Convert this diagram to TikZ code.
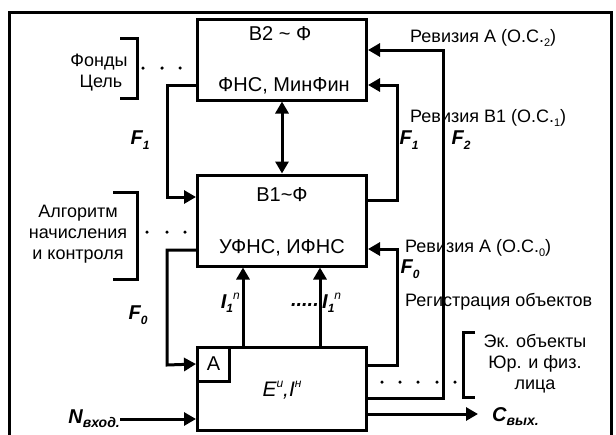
\documentclass[tikz,border=0pt]{standalone}
\usepackage{fontspec}
\setmainfont{Liberation Sans}
\usetikzlibrary{arrows.meta,calc}
\newcommand\sbs[1]{\raisebox{-0.22em}{\fontsize{12pt}{12pt}\selectfont #1}}
\newcommand\bsbs[1]{\raisebox{-0.2em}{\fontsize{14pt}{14pt}\selectfont #1}}
\newcommand\sps[1]{\raisebox{0.45em}{\fontsize{12pt}{12pt}\selectfont #1}}
\newcommand\osub[1]{\raisebox{-0.2em}{\fontsize{11pt}{11pt}\selectfont #1}}
\begin{document}
\begin{tikzpicture}[x=1pt,y=-1pt,
  thk/.style={line width=3pt},
  box/.style={draw,line width=3pt,minimum width=169pt,inner sep=0pt},
  arr/.style={line width=3pt,-{Triangle[length=12pt,width=13pt]}},
  darr/.style={line width=3pt,{Triangle[length=12pt,width=13pt]}-{Triangle[length=12pt,width=13pt]}},
  txt/.style={font=\fontsize{18pt}{20pt}\selectfont,inner sep=0pt},
  btxt/.style={font=\fontsize{20pt}{22pt}\selectfont,inner sep=0pt},
  lbl/.style={font=\fontsize{20pt}{22pt}\selectfont\bfseries\itshape,inner sep=0pt},
  dot/.style={circle,fill,inner sep=0pt,minimum size=3.5pt}]
\useasboundingbox (0,0) rectangle (616,434);
% frame
\draw[thk] (9,440) -- (9,12) -- (611,12) -- (611,440);
% boxes
\node[box,minimum height=81pt] (b2) at (282,59.5) {};
\node[box,minimum height=91pt] (b1) at (282,220.5) {};
\node[box,minimum height=83pt] (e) at (282,388.5) {};
\node[draw,line width=3pt,minimum width=32pt,minimum height=34pt,inner sep=0pt,anchor=north west] (a) at (e.north west) {};
\node[btxt] (an) at (a.center) {А};
% box texts
\node[btxt] (b2t) at (280,34) {В2 \char`\~{} Ф};
\node[btxt] (b2b) at (284,86) {ФНС, МинФин};
\node[btxt] (b1t) at (282,195) {В1\char`\~Ф};
\node[btxt] (b1b) at (282,248) {УФНС, ИФНС};
\node[btxt,font=\fontsize{21pt}{22pt}\selectfont\itshape] (et) at (282,390) {E\sps{u},I\sps{н}};
% double arrow
\draw[darr] (b2.south) -- (b1.north);
% left connectors
\draw[arr] (b2.west |- 0,85) -| (167,197) -- (b1.west |- 0,197);
\draw[arr] (b1.west |- 0,250) -| (167,365) -- (a.west);
\coordinate (nin) at (120,419);
\draw[arr] (nin) -- (e.west |- nin);
\node[lbl,anchor=east] (nl) at (nin) {N\bsbs{вход.}};
\node[lbl] (f1l) at (140,140) {F\sbs{1}};
\node[lbl] (f0l) at (138,315) {F\sbs{0}};
% I arrows
\draw[arr] (e.north -| 243,0) -- (b1.south -| 243,0);
\draw[arr] (e.north -| 320,0) -- (b1.south -| 320,0);
\node[lbl,anchor=east] (i1) at (240,303) {I\sbs{1}\sps{\mdseries n}};
\node[lbl,anchor=east] (dd) at (319,305) {.....};
\node[lbl,anchor=west] (i2) at (322,303) {I\sbs{1}\sps{\mdseries n}};
% right connectors
\draw[arr] (b1.east |- 0,200) -| (397,85) -- (b2.east |- 0,85);
\draw[arr] (e.east |- 0,398) -| (443,50) -- (b2.east |- 0,50);
\draw[arr] (e.east |- 0,365) -| (397,249) -- (b1.east |- 0,249);
\coordinate (cout) at (478,414);
\draw[arr] (e.east |- cout) -- (cout);
\node[lbl,anchor=west] (cl) at (492,417) {C\bsbs{вых.}};
\node[lbl] (f1r) at (409,140) {F\sbs{1}};
\node[lbl] (f2r) at (461,140) {F\sbs{2}};
\node[lbl] (f0r) at (410,269) {F\sbs{0}};
% right texts
\node[txt,anchor=west] (r2) at (410,38) {Ревизия А (О.С.\osub{2})};
\node[txt,anchor=west] (r1) at (410,118) {Ревизия В1 (О.С.\osub{1})};
\node[txt,anchor=west] (r0) at (405,248) {Ревизия А (О.С.\osub{0})};
\node[txt,anchor=west] (reg) at (405,302) {Регистрация объектов};
% left brackets
\draw[thk] (120,38) -- (137,38) -- (137,98) -- (120,98);
\node[txt] (fo) at (99,62) {Фонды};
\node[txt] (ce) at (101,83) {Цель};
\draw[thk] (113,192) -- (137,192) -- (137,279) -- (113,279);
\node[txt,align=center] (alg) at (78,234) {Алгоритм\\[1pt]начисления\\[1pt]и контроля};
% right bracket
\draw[thk] (475,332) -- (463,332) -- (463,397) -- (475,397);
\node[txt,align=center] (ek) at (535,364) {Эк. объекты\\[1pt]Юр. и физ.\\[1pt]лица};
% dots
\foreach \x [count=\i] in {143,162,180} \node[dot] (da\i) at (\x,68) {};
\foreach \x [count=\i] in {147,167,185} \node[dot] (db\i) at (\x,232) {};
\foreach \x [count=\i] in {382,400,418,437,455} \node[dot] (dc\i) at (\x,382) {};
\end{tikzpicture}
\end{document}
